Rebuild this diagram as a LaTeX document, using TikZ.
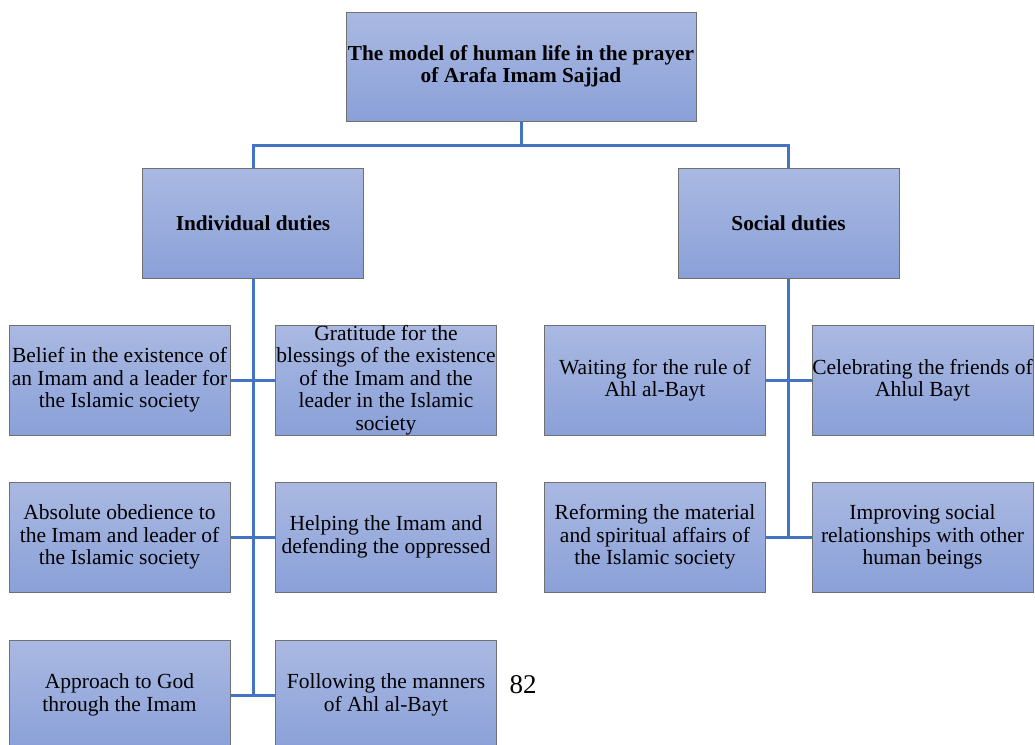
\documentclass[tikz,border=0pt]{standalone}
\usepackage{fontspec}
\setmainfont{Liberation Serif}
\usetikzlibrary{positioning}
\definecolor{boxtop}{RGB}{170,185,226}
\definecolor{boxbot}{RGB}{138,160,216}
\definecolor{boxedge}{RGB}{112,112,112}
\definecolor{linkblue}{RGB}{68,114,196}
\tikzset{every picture/.style={x=1pt,y=-1pt},
  duty/.style={rectangle, draw=boxedge, line width=1pt, top color=boxtop,
    bottom color=boxbot, minimum width=221pt, minimum height=110pt,
    inner sep=0pt, align=center, font=\fontsize{21.5}{22.5}\selectfont},
  head/.style={duty, font=\fontsize{21.3}{22.5}\selectfont\bfseries},
  link/.style={draw=linkblue, line width=3pt}}

\begin{document}
\begin{tikzpicture}
  \useasboundingbox (0,0) rectangle (1035,744);
  \node[head, minimum width=350pt, minimum height=109pt] (model) at (521,66.5)
    {The model of human life in the prayer\\of Arafa Imam Sajjad};
  \node[head] (indiv) at (253,223) {Individual duties};
  \node[head] (social) at (788.5,223) {Social duties};
  % individual duties
  \node[duty] (belief) at (119.5,380)
    {Belief in the existence of\\an Imam and a leader for\\the Islamic society};
  \node[duty, inner ysep=-4pt] (gratitude) at (386,380)
    {Gratitude for the\\blessings of the existence\\of the Imam and the\\leader in the Islamic\\society};
  \node[duty] (obedience) at (119.5,537)
    {Absolute obedience to\\the Imam and leader of\\the Islamic society};
  \node[duty] (helping) at (386,537)
    {Helping the Imam and\\defending the oppressed};
  \node[duty] (approach) at (119.5,695) {Approach to God\\through the Imam};
  \node[duty] (manners) at (386,695) {Following the manners\\of Ahl al-Bayt};
  % social duties
  \node[duty] (waiting) at (655,380) {Waiting for the rule of\\Ahl al-Bayt};
  \node[duty] (celebrate) at (922.5,380) {Celebrating the friends of\\Ahlul Bayt};
  \node[duty] (reform) at (655,537)
    {Reforming the material\\and spiritual affairs of\\the Islamic society};
  \node[duty] (improve) at (922.5,537)
    {Improving social\\relationships with other\\human beings};
  \node (page) at (523,685) {\fontsize{27}{30}\selectfont 82};
  % connectors
  \coordinate (fork) at (521,145);
  \draw[link] (model.south) -- (fork);
  \draw[link] (indiv.north) |- (fork) -| (social.north);
  \draw[link] (indiv.south) -- (indiv.south |- approach.east);
  \draw[link] (belief.east) -- (gratitude.west);
  \draw[link] (obedience.east) -- (helping.west);
  \draw[link] (approach.east) -- (manners.west);
  \draw[link] (social.south) -- (social.south |- reform.east);
  \draw[link] (waiting.east) -- (celebrate.west);
  \draw[link] (reform.east) -- (improve.west);
\end{tikzpicture}
\end{document}
